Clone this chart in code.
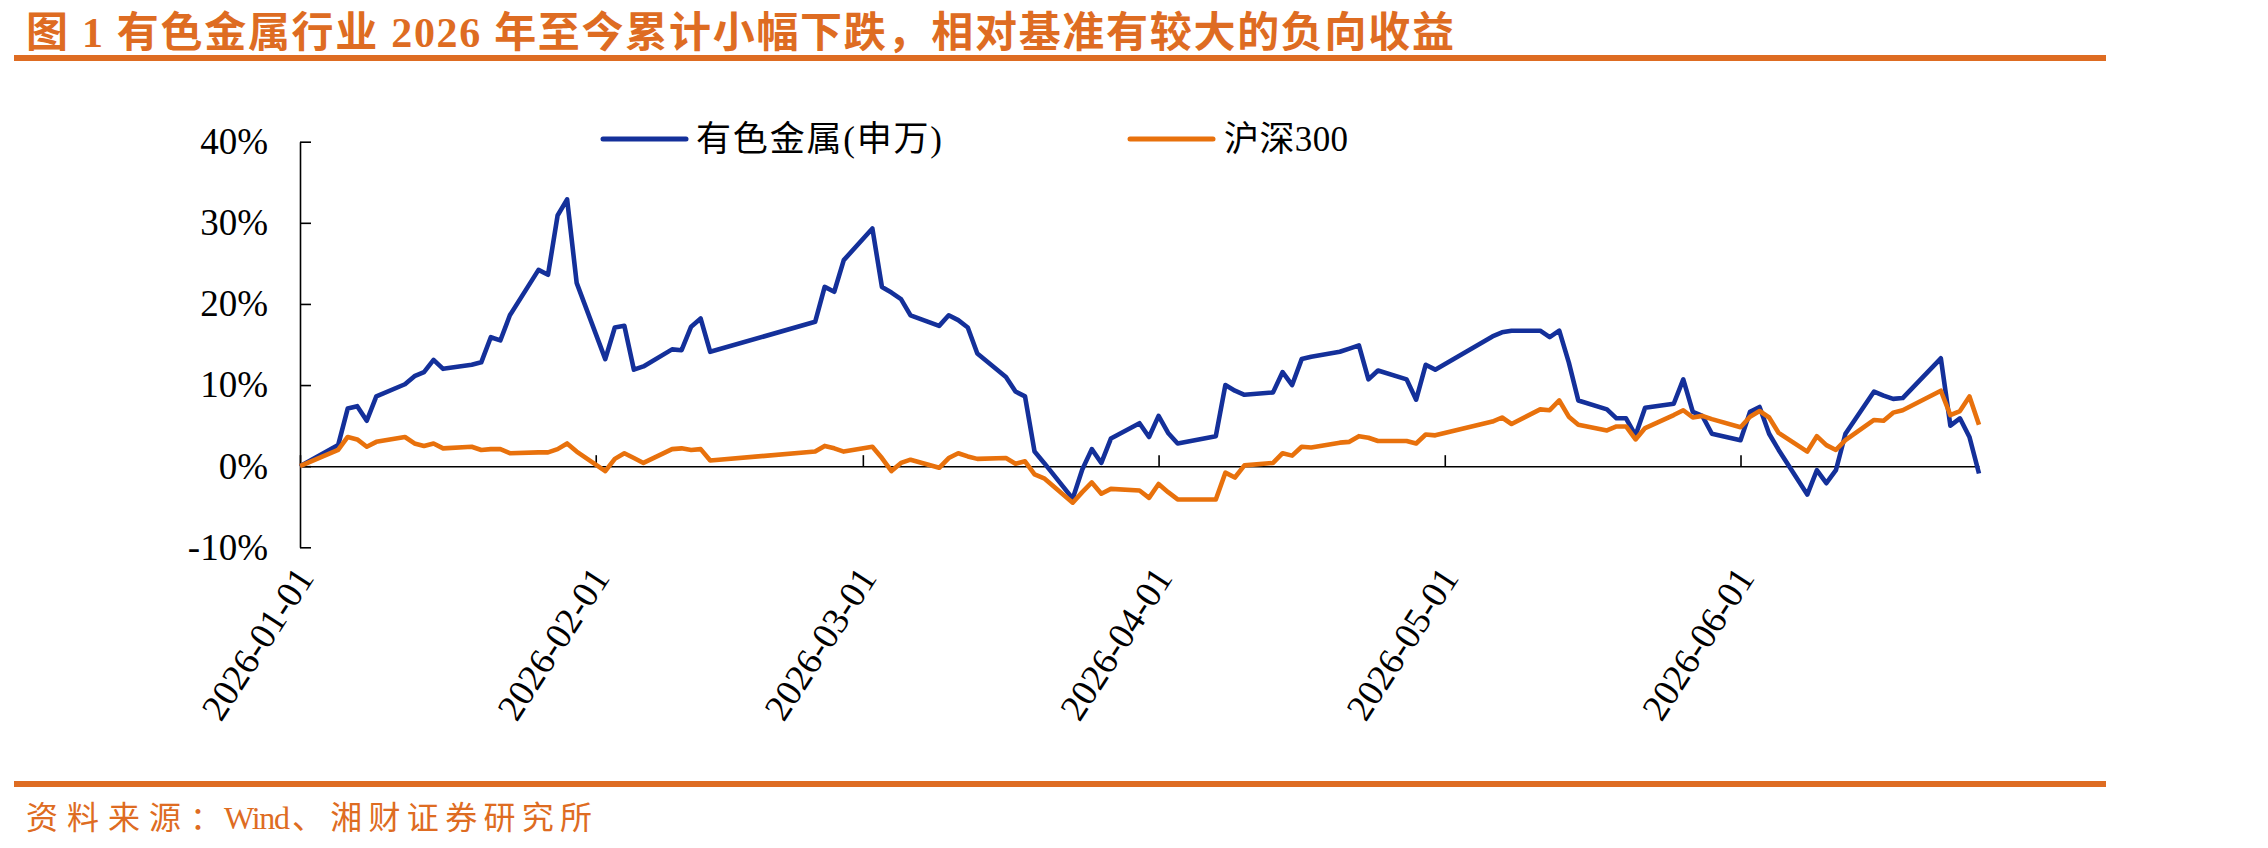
<!DOCTYPE html>
<html>
<head>
<meta charset="utf-8">
<script src="https://cdn.jsdelivr.net/npm/d3@7"></script>
<style>
  body { margin: 0; background: #fff; }
  svg { display: block; }
  .axis text { font-family: 'Liberation Serif', 'Times New Roman', serif; font-size: 37px; fill: #000; }
  .axis path, .axis line { stroke: #000; stroke-width: 1.6; }
  .cn { font-family: 'Liberation Serif', 'Noto Sans CJK SC', serif; }
</style>
</head>
<body>
<div id="chart"></div>
<script>
// trading days, 2026
var dates = [
  '2026-01-01', '2026-01-05', '2026-01-06', '2026-01-07', '2026-01-08', '2026-01-09',
  '2026-01-12', '2026-01-13', '2026-01-14', '2026-01-15', '2026-01-16',
  '2026-01-19', '2026-01-20', '2026-01-21', '2026-01-22', '2026-01-23',
  '2026-01-26', '2026-01-27', '2026-01-28', '2026-01-29', '2026-01-30',
  '2026-02-02', '2026-02-03', '2026-02-04', '2026-02-05', '2026-02-06',
  '2026-02-09', '2026-02-10', '2026-02-11', '2026-02-12', '2026-02-13',
  '2026-02-24', '2026-02-25', '2026-02-26', '2026-02-27',
  '2026-03-02', '2026-03-03', '2026-03-04', '2026-03-05', '2026-03-06',
  '2026-03-09', '2026-03-10', '2026-03-11', '2026-03-12', '2026-03-13',
  '2026-03-16', '2026-03-17', '2026-03-18', '2026-03-19', '2026-03-20',
  '2026-03-23', '2026-03-24', '2026-03-25', '2026-03-26', '2026-03-27',
  '2026-03-30', '2026-03-31', '2026-04-01', '2026-04-02', '2026-04-03',
  '2026-04-07', '2026-04-08', '2026-04-09', '2026-04-10',
  '2026-04-13', '2026-04-14', '2026-04-15', '2026-04-16', '2026-04-17',
  '2026-04-20', '2026-04-21', '2026-04-22', '2026-04-23', '2026-04-24',
  '2026-04-27', '2026-04-28', '2026-04-29', '2026-04-30',
  '2026-05-06', '2026-05-07', '2026-05-08',
  '2026-05-11', '2026-05-12', '2026-05-13', '2026-05-14', '2026-05-15',
  '2026-05-18', '2026-05-19', '2026-05-20', '2026-05-21', '2026-05-22',
  '2026-05-25', '2026-05-26', '2026-05-27', '2026-05-28', '2026-05-29',
  '2026-06-01', '2026-06-02', '2026-06-03', '2026-06-04', '2026-06-05',
  '2026-06-08', '2026-06-09', '2026-06-10', '2026-06-11', '2026-06-12',
  '2026-06-15', '2026-06-16', '2026-06-17', '2026-06-18',
  '2026-06-22', '2026-06-23', '2026-06-24', '2026-06-25', '2026-06-26'
]

// 有色金属(申万), cumulative %
var metals = [
  0, 2.6, 7.1, 7.4, 5.6, 8.6,
  10.1, 11.1, 11.6, 13.1, 12.0,
  12.5, 12.8, 15.9, 15.5, 18.6,
  24.2, 23.6, 30.9, 32.9, 22.6,
  13.2, 17.1, 17.3, 11.9, 12.3,
  14.4, 14.3, 17.2, 18.2, 14.1,
  17.8, 22.1, 21.5, 25.4,
  29.3, 22.1, 21.4, 20.6, 18.6,
  17.3, 18.6, 18.0, 17.1, 13.9,
  11.0, 9.2, 8.6, 1.8, 0.4,
  -4.0, -0.4, 2.1, 0.4, 3.4,
  5.3, 3.6, 6.2, 4.1, 2.8,
  3.7, 10.0, 9.3, 8.8,
  9.1, 11.6, 10.0, 13.2, 13.5,
  14.1, 14.5, 14.9, 10.7, 11.8,
  10.7, 8.2, 12.5, 11.9,
  16.0, 16.5, 16.7,
  16.7, 15.9, 16.7, 12.8, 8.1,
  7.0, 5.9, 5.9, 3.8, 7.2,
  7.7, 10.7, 6.7, 6.2, 4.0,
  3.2, 6.7, 7.3, 4.0, 2.0,
  -3.5, -0.5, -2.1, -0.5, 4.0,
  9.2, 8.7, 8.3, 8.4,
  13.3, 5.0, 5.9, 3.6, -0.9
]

// 沪深300, cumulative %
var csi300 = [
  0, 2.0, 3.6, 3.3, 2.4, 3.0,
  3.6, 2.8, 2.5, 2.8, 2.2,
  2.4, 2.0, 2.1, 2.1, 1.6,
  1.7, 1.7, 2.1, 2.8, 1.8,
  -0.6, 0.9, 1.6, 1.0, 0.4,
  2.1, 2.2, 2.0, 2.1, 0.7,
  1.8, 2.5, 2.2, 1.8,
  2.4, 1.0, -0.6, 0.4, 0.8,
  -0.2, 1.0, 1.6, 1.2, 0.9,
  1.0, 0.3, 0.6, -1.0, -1.5,
  -4.5, -3.2, -2.0, -3.4, -2.8,
  -3.0, -3.9, -2.2, -3.2, -4.1,
  -4.1, -0.8, -1.4, 0.1,
  0.4, 1.6, 1.3, 2.4, 2.3,
  2.9, 3.0, 3.7, 3.5, 3.1,
  3.1, 2.8, 3.9, 3.8,
  5.5, 6.0, 5.2,
  7.0, 6.9, 8.1, 6.1, 5.1,
  4.4, 4.9, 4.9, 3.3, 4.7,
  6.3, 6.9, 6.0, 6.2, 5.8,
  4.8, 6.1, 6.8, 6.0, 4.1,
  1.8, 3.7, 2.6, 2.0, 3.2,
  5.7, 5.6, 6.6, 6.9,
  9.3, 6.3, 6.8, 8.6, 5.1
]

var seriesNames = ['有色金属(申万)', '沪深300']
var seriesColors = ['#14309A', '#E8710C']
var yTicks = [-10, 0, 10, 20, 30, 40]
var monthTicks = ['2026-01-01', '2026-02-01', '2026-03-01', '2026-04-01', '2026-05-01', '2026-06-01']

var titleText = '图 1  有色金属行业 2026 年至今累计小幅下跌，相对基准有较大的负向收益'
var sourceText = '资料来源：Wind、湘财证券研究所'
var accent = '#DE6C22'

var W = 2268
var H = 848

var parseDate = d3.timeParse('%Y-%m-%d')

var svg = d3
  .select('#chart')
  .append('svg')
  .attr('width', W)
  .attr('height', H)

svg.append('rect').attr('width', W).attr('height', H).attr('fill', '#fff')

// title + rules
svg
  .append('text')
  .attr('class', 'cn')
  .attr('x', 26)
  .attr('y', 47)
  .attr('font-size', 42)
  .attr('font-weight', 'bold')
  .attr('fill', accent)
  .attr('textLength', 1428)
  .attr('lengthAdjust', 'spacing')
  .text(titleText)

svg.append('rect').attr('x', 14).attr('y', 55).attr('width', 2092).attr('height', 6).attr('fill', accent)
svg.append('rect').attr('x', 14).attr('y', 781).attr('width', 2092).attr('height', 6).attr('fill', accent)

// source line: CJK parts spaced out, "Wind" kept tight
var sourceParts = [
  { text: '资料来源：', len: 196 },
  { text: 'Wind', len: 66 },
  { text: '、湘财证券研究所', len: 300 }
]
var src = svg
  .append('text')
  .attr('class', 'cn')
  .attr('x', 26)
  .attr('y', 829)
  .attr('font-size', 32)
  .attr('fill', accent)

var srcX = 26
sourceParts.forEach(function(p) {
  src
    .append('tspan')
    .attr('x', srcX)
    .attr('textLength', p.len)
    .attr('lengthAdjust', 'spacing')
    .text(p.text)
  srcX += p.len + 2
})

// scales
let xPositionScale = d3
  .scaleTime()
  .domain([parseDate(dates[0]), parseDate(dates[dates.length - 1])])
  .range([300, 1979])

let yPositionScale = d3
  .scaleLinear()
  .domain([-10, 40])
  .range([547.3, 141.7])

// y axis, ticks point inward
var yAxis = d3
  .axisLeft(yPositionScale)
  .tickValues(yTicks)
  .tickSizeInner(-11)
  .tickSizeOuter(0)
  .tickPadding(32)
  .tickFormat(d => d + '%')

svg
  .append('g')
  .attr('class', 'axis y-axis')
  .attr('transform', 'translate(300,0)')
  .call(yAxis)

// x axis at 0%, ticks at month starts pointing up
var xTickDates = monthTicks.map(parseDate)

var xAxis = d3
  .axisBottom(xPositionScale)
  .tickValues(xTickDates)
  .tickSizeInner(-11)
  .tickSizeOuter(0)
  .tickFormat('')

svg
  .append('g')
  .attr('class', 'axis x-axis')
  .attr('transform', `translate(0,${yPositionScale(0)})`)
  .call(xAxis)

// rotated month labels below the plot
svg
  .append('g')
  .attr('class', 'axis x-labels')
  .selectAll('text')
  .data(xTickDates)
  .enter()
  .append('text')
  .attr('text-anchor', 'end')
  .attr('font-size', 36)
  .attr('transform', d => `translate(${xPositionScale(d) + 15},578) rotate(-57)`)
  .text(d3.timeFormat('%Y-%m-%d'))

// lines
var series = [metals, csi300]

var line = d3
  .line()
  .x(d => xPositionScale(d.date))
  .y(d => yPositionScale(d.value))

series.forEach(function(values, i) {
  var points = dates.map((d, j) => ({ date: parseDate(d), value: values[j] }))
  svg
    .append('path')
    .datum(points)
    .attr('d', line)
    .attr('fill', 'none')
    .attr('stroke', seriesColors[i])
    .attr('stroke-width', 4.6)
    .attr('stroke-linejoin', 'round')
})

// legend
var legendX = [603, 1130]
var legendText = [
  { x: 696, len: 246 },
  { x: 1224, len: 124 }
]

seriesNames.forEach(function(name, i) {
  svg
    .append('line')
    .attr('x1', legendX[i])
    .attr('x2', legendX[i] + 83)
    .attr('y1', 139)
    .attr('y2', 139)
    .attr('stroke', seriesColors[i])
    .attr('stroke-width', 5)
    .attr('stroke-linecap', 'round')

  svg
    .append('text')
    .attr('class', 'cn')
    .attr('x', legendText[i].x)
    .attr('y', 151)
    .attr('font-size', 35)
    .attr('fill', '#000')
    .attr('textLength', legendText[i].len)
    .attr('lengthAdjust', 'spacing')
    .text(name)
})
</script>
</body>
</html>
